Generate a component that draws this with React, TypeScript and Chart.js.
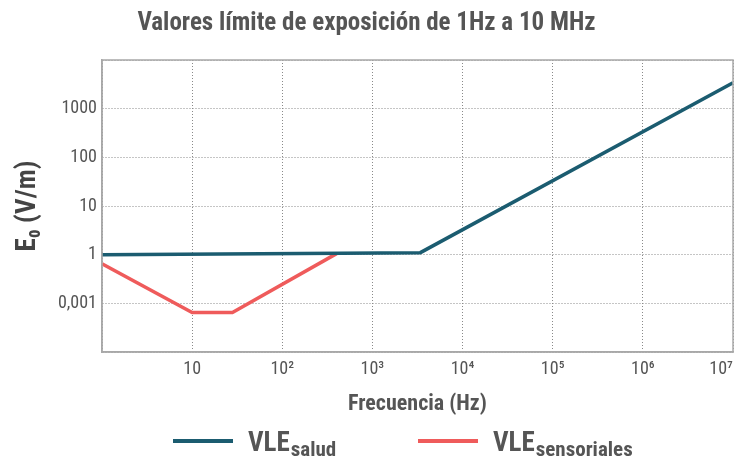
import React, { useEffect, useRef } from "react";
import { Chart, registerables } from "chart.js";

Chart.register(...registerables);

const TITLE = "Valores límite de exposición de 1Hz a 10 MHz";
const X_TITLE = "Frecuencia (Hz)";
const Y_TITLE = "E₀ (V/m)";

const xTickValues = [1, 10, 100, 1000, 10000, 100000, 1000000, 10000000];
const xTickLabels = ["", "10", "10²", "10³", "10⁴", "10⁵", "10⁶", "10⁷"];
const yTickValues = [0.01, 0.1, 1, 10, 100, 1000, 10000];
const yTickLabels = ["", "0,001", "1", "10", "100", "1000", ""];

const saludFreq = [1, 3400, 10000000];
const saludE = [1, 1.1, 3400];
const sensFreq = [1, 10, 28, 400];
const sensE = [0.65, 0.065, 0.065, 1.05];

const legendItems = [
  { main: "VLE", sub: "salud", color: "#1b5c70" },
  { main: "VLE", sub: "sensoriales", color: "#ef5b5b" },
];

const FONT = "'Roboto Condensed', 'Liberation Sans Narrow', Roboto, sans-serif";

const framePlugin = {
  id: "frame",
  afterDatasetsDraw(chart: any) {
    const { ctx, chartArea } = chart;
    ctx.save();
    ctx.strokeStyle = "#a8a8a8";
    ctx.lineWidth = 1.5;
    ctx.strokeRect(chartArea.left, chartArea.top, chartArea.right - chartArea.left, chartArea.bottom - chartArea.top);
    ctx.restore();
  },
};

const legendPlugin = {
  id: "customLegend",
  afterDraw(chart: any) {
    const { ctx } = chart;
    const y = 441;
    const starts = [173, 418];
    ctx.save();
    legendItems.forEach((it, i) => {
      const x0 = starts[i];
      ctx.strokeStyle = it.color;
      ctx.lineWidth = 4;
      ctx.beginPath();
      ctx.moveTo(x0, y);
      ctx.lineTo(x0 + 60, y);
      ctx.stroke();
      ctx.fillStyle = "#555555";
      ctx.textBaseline = "alphabetic";
      ctx.textAlign = "left";
      ctx.font = `bold 27px ${FONT}`;
      const tx = x0 + 75;
      ctx.fillText(it.main, tx, 451);
      const w = ctx.measureText(it.main).width;
      ctx.font = `bold 21px ${FONT}`;
      ctx.fillText(it.sub, tx + w + 1, 456);
    });
    ctx.restore();
  },
};

export default function App() {
  const ref = useRef<HTMLCanvasElement | null>(null);
  useEffect(() => {
    document.body.style.margin = "0";
    const canvas = ref.current!;
    const mk = (fx: number[], fy: number[]) => fx.map((x, i) => ({ x, y: fy[i] }));
    const chart = new Chart(canvas, {
      type: "line",
      data: {
        datasets: [
          {
            label: "VLE salud",
            data: mk(saludFreq, saludE),
            borderColor: "#1b5c70",
            borderWidth: 3.5,
            pointRadius: 0,
            tension: 0,
          },
          {
            label: "VLE sensoriales",
            data: mk(sensFreq, sensE),
            borderColor: "#ef5b5b",
            borderWidth: 3.5,
            pointRadius: 0,
            tension: 0,
          },
        ],
      },
      options: {
        animation: false,
        responsive: false,
        maintainAspectRatio: false,
        layout: { padding: { left: 0, right: 5, top: 0, bottom: 30 } },
        plugins: {
          legend: { display: false },
          tooltip: { enabled: false },
          title: {
            display: true,
            text: TITLE,
            color: "#555555",
            font: { family: FONT, size: 25, weight: "bold" },
            padding: { top: 9, bottom: 21 },
          },
        },
        scales: {
          x: {
            type: "logarithmic",
            min: 1,
            max: 10000000,
            afterBuildTicks: (s: any) => {
              s.ticks = xTickValues.map((v) => ({ value: v }));
            },
            afterFit: (s: any) => {
              s.height = 74;
              s.paddingLeft = 0;
              s.paddingRight = 0;
            },
            ticks: {
              autoSkip: false,
              maxRotation: 0,
              align: "inner",
              color: "#555555",
              font: { family: FONT, size: 18 },
              padding: 7,
              callback: (_v: any, i: number) => xTickLabels[i],
            },
            grid: {
              color: "#8a8a8a",
              lineWidth: 1,
              drawTicks: false,
            },
            border: { color: "#a8a8a8", width: 1.5, dash: [1, 2] },
            title: {
              display: true,
              text: X_TITLE,
              color: "#555555",
              font: { family: FONT, size: 22, weight: "bold" },
              padding: { top: 0, bottom: 8 },
            },
          },
          y: {
            type: "logarithmic",
            min: 0.01,
            max: 10000,
            afterBuildTicks: (s: any) => {
              s.ticks = yTickValues.map((v) => ({ value: v }));
            },
            afterFit: (s: any) => {
              s.width = 102;
              s.paddingTop = 0;
              s.paddingBottom = 0;
            },
            ticks: {
              autoSkip: false,
              color: "#555555",
              font: { family: FONT, size: 18 },
              padding: 5,
              callback: (_v: any, i: number) => yTickLabels[i],
            },
            grid: {
              color: "#8a8a8a",
              lineWidth: 1,
              drawTicks: false,
            },
            border: { color: "#a8a8a8", width: 1.5, dash: [1, 2] },
            title: {
              display: true,
              text: Y_TITLE,
              color: "#444444",
              font: { family: FONT, size: 27, weight: "bold" },
              padding: { top: 12, bottom: 0 },
            },
          },
        },
      } as any,
      plugins: [framePlugin, legendPlugin],
    });
    return () => chart.destroy();
  }, []);
  return (
    <div style={{ position: "absolute", left: 0, top: 0, width: 738, height: 456 }}>
      <canvas ref={ref} width={738} height={456} style={{ width: 738, height: 456 }} />
    </div>
  );
}
